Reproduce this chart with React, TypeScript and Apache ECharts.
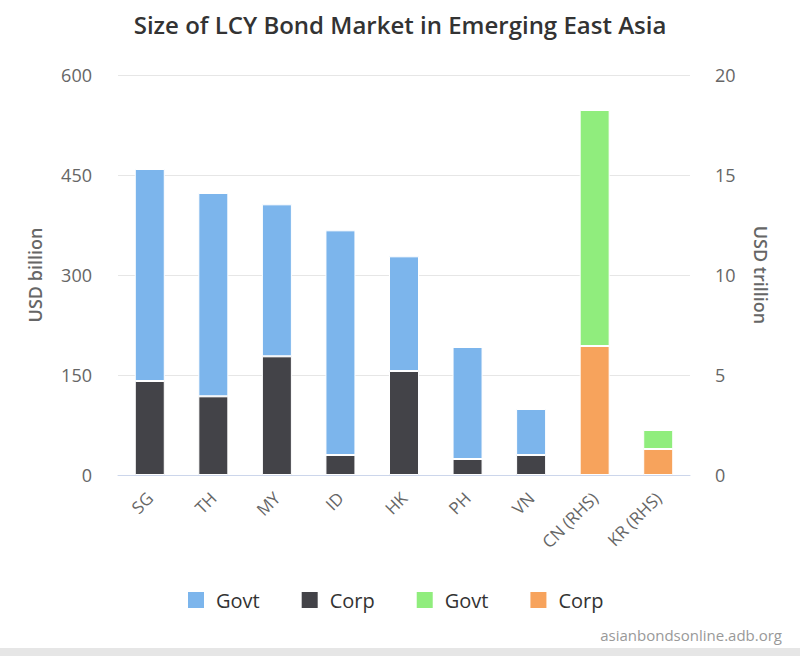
import React, { useEffect, useRef } from "react";
import * as echarts from "echarts";

const categories = ["SG", "TH", "MY", "ID", "HK", "PH", "VN", "CN (RHS)", "KR (RHS)"];
// USD billion (left axis)
const govtLeft = [318, 305, 228, 337, 172, 168, 69, null, null];
const corpLeft = [141, 118, 178, 30, 156, 24, 30, null, null];
// USD trillion (right axis)
const govtRight = [null, null, null, null, null, null, null, 11.8, 0.95];
const corpRight = [null, null, null, null, null, null, null, 6.45, 1.3];
const leftTicks = { min: 0, max: 600, interval: 150 };
const rightTicks = { min: 0, max: 20, interval: 5 };

const FONT = "'Open Sans', 'Noto Sans', sans-serif";

export default function App() {
  const ref = useRef<HTMLDivElement>(null);
  useEffect(() => {
    if (!ref.current) return;
    const chart = echarts.init(ref.current, undefined, { renderer: "svg" });
    const barCommon = {
      type: "bar" as const,
      barWidth: 30,
      barGap: "-100%",
      itemStyle: { borderColor: "#ffffff", borderWidth: 1 },
    };
    chart.setOption({
      animation: false,
      backgroundColor: "#ffffff",
      textStyle: { fontFamily: FONT },
      title: {
        text: "Size of LCY Bond Market in Emerging East Asia",
        left: "center",
        top: 7,
        textStyle: { fontSize: 24, fontWeight: 600, color: "#333333", fontFamily: FONT },
      },
      legend: {
        data: ["Govt", "Corp", "Govt (RHS)", "Corp (RHS)"],
        bottom: 41,
        left: 181,
        itemWidth: 18,
        itemHeight: 18,
        itemGap: 40,
        icon: "rect",
        formatter: (n: string) => n.replace(" (RHS)", ""),
        textStyle: { fontSize: 20, fontWeight: "normal", color: "#333333", fontFamily: FONT, padding: [0, 0, 0, 6] },
      },
      grid: { left: 118, right: 110, top: 75, bottom: 181 },
      xAxis: {
        type: "category",
        data: categories,
        axisLine: { lineStyle: { color: "#ccd6eb" } },
        axisTick: { length: 13, lineStyle: { color: "#ccd6eb" } },
        axisLabel: { rotate: 45, fontSize: 17, color: "#666666", margin: 20, fontFamily: FONT },
      },
      yAxis: [
        {
          type: "value",
          ...leftTicks,
          name: "USD billion",
          nameLocation: "middle",
          nameRotate: 90,
          nameGap: 74,
          nameTextStyle: { fontSize: 18, fontWeight: 600, color: "#666666", fontFamily: FONT },
          axisLabel: { fontSize: 18, color: "#666666", margin: 26, fontFamily: FONT },
          splitLine: { lineStyle: { color: "#e6e6e6" } },
          axisLine: { show: false },
          axisTick: { show: false },
        },
        {
          type: "value",
          ...rightTicks,
          name: "USD trillion",
          nameLocation: "middle",
          nameRotate: -90,
          nameGap: 62,
          nameTextStyle: { fontSize: 18, fontWeight: 600, color: "#666666", fontFamily: FONT },
          axisLabel: { fontSize: 18, color: "#666666", margin: 25, fontFamily: FONT },
          splitLine: { show: false },
          axisLine: { show: false },
          axisTick: { show: false },
        },
      ],
      series: [
        { ...barCommon, name: "Corp", stack: "left", yAxisIndex: 0, data: corpLeft, itemStyle: { ...barCommon.itemStyle, color: "#434348" } },
        { ...barCommon, name: "Govt", stack: "left", yAxisIndex: 0, data: govtLeft, itemStyle: { ...barCommon.itemStyle, color: "#7cb5ec" } },
        { ...barCommon, name: "Corp (RHS)", stack: "right", yAxisIndex: 1, data: corpRight, itemStyle: { ...barCommon.itemStyle, color: "#f7a35c" } },
        { ...barCommon, name: "Govt (RHS)", stack: "right", yAxisIndex: 1, data: govtRight, itemStyle: { ...barCommon.itemStyle, color: "#90ed7d" } },
      ],
      graphic: [
        {
          type: "text",
          right: 18,
          top: 627,
          style: { text: "asianbondsonline.adb.org", fontSize: 15, fill: "#999999", fontFamily: FONT },
        },
        {
          type: "rect",
          left: 0,
          top: 648,
          shape: { width: 800, height: 8 },
          style: { fill: "#e6e6e6" },
        },
      ],
    });
    return () => chart.dispose();
  }, []);
  return <div ref={ref} style={{ position: "fixed", left: 0, top: 0, width: 800, height: 656 }} />;
}
